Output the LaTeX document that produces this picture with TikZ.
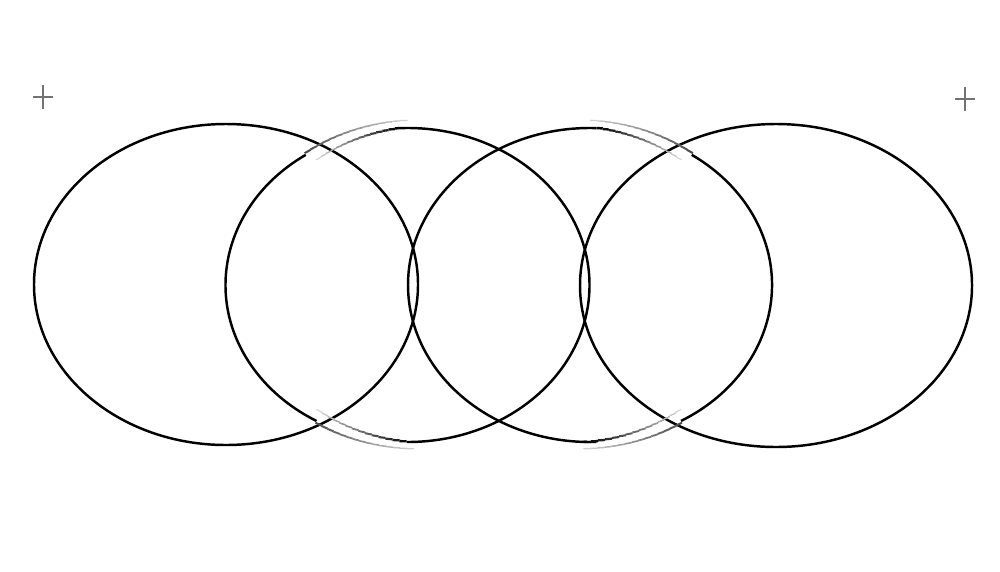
\documentclass[tikz,border=0pt]{standalone}
\begin{document}
\begin{tikzpicture}[
    ring/.style={black,line width=0.7pt},
    crossmark/.style={gray!90!black,line width=0.5pt}]
    \useasboundingbox (0,0) rectangle (10,5.71);
    \coordinate (C2) at (4.075,2.86);
    \coordinate (C3) at (5.90,2.86);
    %outer ellipses
    \draw [ring] (2.26,2.865) ellipse (1.92 and 1.605);
    \draw [ring] (7.76,2.855) ellipse (1.96 and 1.615);
    %inner ellipses, drawn in pieces
    \draw [ring] ([shift={(124:1.82 and 1.57)}]C2) arc[start angle=124,end angle=240,x radius=1.82,y radius=1.57];
    \draw [ring] ([shift={(-88:1.82 and 1.57)}]C2) arc[start angle=-88,end angle=92,x radius=1.82,y radius=1.57];
    \draw [ring] ([shift={(88:1.82 and 1.57)}]C3) arc[start angle=88,end angle=272,x radius=1.82,y radius=1.57];
    \draw [ring] ([shift={(-60:1.82 and 1.57)}]C3) arc[start angle=-60,end angle=56,x radius=1.82,y radius=1.57];
    %fading strokes (centre/start/end/offset0/offset1/ink0/ink1)
    \foreach \c/\sa/\ea/\da/\db/\oa/\ob in {
        C2/92/122/0/-0.10/1/0.1, C2/124/90/0.02/0.08/0.7/0.15,
        C2/272/238/0/-0.11/1/0.1, C2/240/272/0.02/0.07/0.7/0.15,
        C3/88/58/0/-0.10/1/0.1, C3/56/90/0.02/0.08/0.7/0.15,
        C3/268/302/0/-0.11/1/0.1, C3/300/268/0.02/0.07/0.7/0.15} {
        \foreach \i in {0,...,14} {
            \pgfmathsetmacro\aa{\sa+(\ea-\sa)*\i/15}
            \pgfmathsetmacro\ab{\sa+(\ea-\sa)*(\i+1)/15}
            \pgfmathsetmacro\rx{1.82+\da+(\db-\da)*\i/15}
            \pgfmathsetmacro\ry{1.57+\da+(\db-\da)*\i/15}
            \pgfmathsetmacro\pc{100*(\oa+(\ob-\oa)*\i/15)}
            \pgfmathsetmacro\lw{0.3+0.4*\pc/100}
            \draw [draw=black!\pc,line width=\lw pt] ([shift={(\aa:{\rx} and {\ry})}]\c) arc[start angle=\aa,end angle=\ab,x radius=\rx,y radius=\ry];
        }
    }
    %crosses
    \draw [crossmark] (0.33,4.74) -- (0.53,4.74);
    \draw [crossmark] (0.43,4.62) -- (0.43,4.86);
    \draw [crossmark] (9.55,4.72) -- (9.75,4.72);
    \draw [crossmark] (9.65,4.60) -- (9.65,4.84);
\end{tikzpicture}
\end{document}
